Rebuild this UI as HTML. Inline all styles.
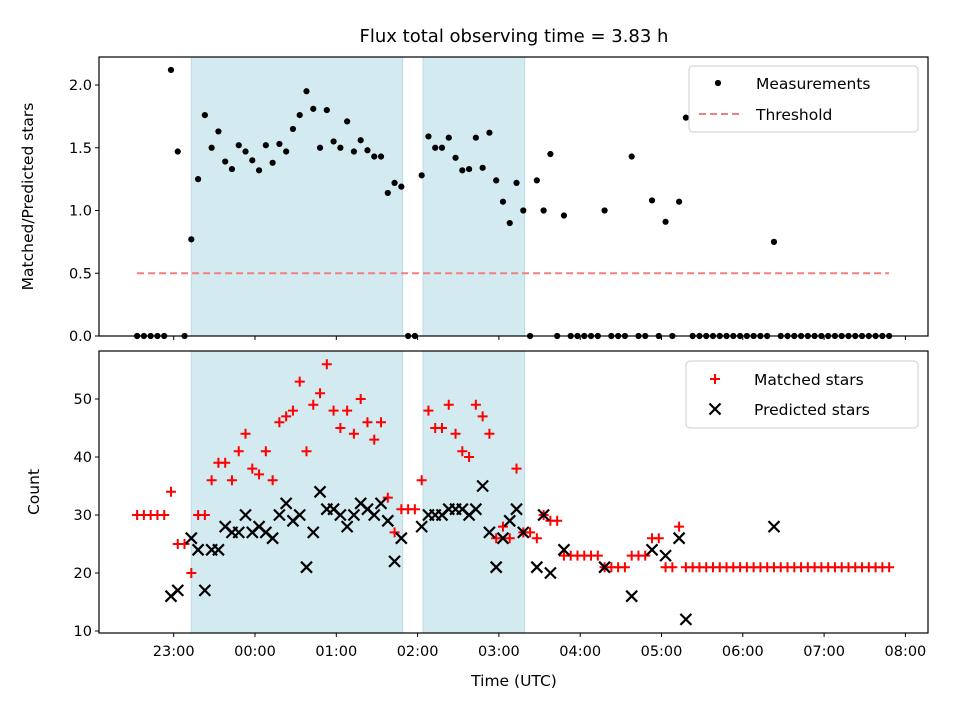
<!DOCTYPE html>
<html><head><meta charset="utf-8"><style>
body{margin:0;background:#fff;}
svg{display:block;font-family:"DejaVu Sans","Liberation Sans",sans-serif;}
</style></head><body>
<svg id="chart" width="960" height="720" viewBox="0 0 960 720" xmlns="http://www.w3.org/2000/svg"></svg>
<script>
// time index i -> minutes since 22:00 = startMin + step*i
const startMin = 33;
const stepMin = 5;
const ratioValues = [0,0,0,0,0,2.12,1.47,0,0.77,1.25,1.76,1.50,1.63,1.39,1.33,1.52,1.47,1.40,1.32,1.52,1.38,1.53,1.47,1.65,1.76,1.95,1.81,1.50,1.80,1.55,1.50,1.71,1.47,1.56,1.48,1.43,1.43,1.14,1.22,1.19,0,0,1.28,1.59,1.50,1.50,1.58,1.42,1.32,1.33,1.58,1.34,1.62,1.24,1.07,0.90,1.22,1.00,0,1.24,1.00,1.45,0,0.96,0,0,0,0,0,1.00,0,0,0,1.43,0,0,1.08,0,0.91,0,1.07,1.74,0,0,0,0,0,0,0,0,0,0,0,0,0.75,0,0,0,0,0,0,0,0,0,0,0,0,0,0,0,0,0];
const matchedValues = [30,30,30,30,30,34,25,25,20,30,30,36,39,39,36,41,44,38,37,41,36,46,47,48,53,41,49,51,56,48,45,48,44,50,46,43,46,33,27,31,31,31,36,48,45,45,49,44,41,40,49,47,44,26,28,26,38,27,27,26,30,29,29,23,23,23,23,23,23,21,21,21,21,23,23,23,26,26,21,21,28,21,21,21,21,21,21,21,21,21,21,21,21,21,21,21,21,21,21,21,21,21,21,21,21,21,21,21,21,21,21,21];
const predictedValues = [null,null,null,null,null,16,17,null,26,24,17,24,24,28,27,27,30,27,28,27,26,30,32,29,30,21,27,34,31,31,30,28,30,32,31,30,32,29,22,26,null,null,28,30,30,30,31,31,31,30,31,35,27,21,26,29,31,27,null,21,30,20,null,24,null,null,null,null,null,21,null,null,null,16,null,null,24,null,23,null,26,12,null,null,null,null,null,null,null,null,null,null,null,null,28];
const xTickLabels = ["23:00","00:00","01:00","02:00","03:00","04:00","05:00","06:00","07:00","08:00"];
const xTickMins = [60,120,180,240,300,360,420,480,540,600];
const topYTicks = [0.0,0.5,1.0,1.5,2.0];
const botYTicks = [10,20,30,40,50];
const spans = [[73,229],[244,319]];
const threshold = 0.5;
const thresholdRange = [33,588];

const NS="http://www.w3.org/2000/svg";
const svg=document.getElementById('chart');
function el(tag,attrs,parent){const e=document.createElementNS(NS,tag);for(const k in attrs)e.setAttribute(k,attrs[k]);(parent||svg).appendChild(e);return e;}
const L=99,R=928;
const xS=m=>92.4+m*1.355;
const tT=57,tB=336,bT=351,bB=633;
const yTop=v=>336-v*125.5;
const yBot=v=>631-(v-10)*5.8;
const tm=i=>startMin+stepMin*i;

let t=el('text',{x:514,y:42,'text-anchor':'middle','font-size':'18'});t.textContent='Flux total observing time = 3.83 h';


function panel(top,bottom,name){
  const g=el('g',{});
  
  spans.forEach(s=>{const r=el('rect',{x:xS(s[0]),y:top,width:xS(s[1])-xS(s[0]),height:bottom-top,fill:'#d4eaf1',stroke:'#bcdbe6','stroke-width':1},g);
    });
  return g;
}
const gTop=panel(tT,tB,'top-panel');
const gBot=panel(bT,bB,'bottom-panel');

let th=el('line',{x1:xS(thresholdRange[0]),x2:xS(thresholdRange[1]),y1:yTop(threshold),y2:yTop(threshold),stroke:'#f08080','stroke-width':2,'stroke-dasharray':'7,4'},gTop);


ratioValues.forEach((v,i)=>{if(v===null)return;const c=el('circle',{cx:xS(tm(i)),cy:yTop(v),r:3.1,fill:'#000'},gTop);
  });

matchedValues.forEach((v,i)=>{if(v===null)return;const x=xS(tm(i)),y=yBot(v);
  const p=el('path',{d:`M${x-5},${y}H${x+5}M${x},${y-5}V${y+5}`,stroke:'#f00','stroke-width':2},gBot);
  });
predictedValues.forEach((v,i)=>{if(v===null)return;const x=xS(tm(i)),y=yBot(v);
  const p=el('path',{d:`M${x-5.5},${y-5.5}L${x+5.5},${y+5.5}M${x-5.5},${y+5.5}L${x+5.5},${y-5.5}`,stroke:'#000','stroke-width':2.2},gBot);
  });

[[tT,tB],[bT,bB]].forEach(([a,b])=>{el('rect',{x:L,y:a,width:R-L,height:b-a,fill:'none',stroke:'#000','stroke-width':1.2});});

xTickMins.forEach((m,k)=>{const x=xS(m);
  el('line',{x1:x,x2:x,y1:tB,y2:tB+4,stroke:'#000'});
  el('line',{x1:x,x2:x,y1:bB,y2:bB+4,stroke:'#000'});
  const tx=el('text',{x:x,y:bB+23,'text-anchor':'middle','font-size':'14.5'});tx.textContent=xTickLabels[k];
  });
topYTicks.forEach(v=>{const y=yTop(v);el('line',{x1:L-4,x2:L,y1:y,y2:y,stroke:'#000'});
  const tx=el('text',{x:L-7,y:y+5,'text-anchor':'end','font-size':'14.5'});tx.textContent=v.toFixed(1);
  });
botYTicks.forEach(v=>{const y=yBot(v);el('line',{x1:L-4,x2:L,y1:y,y2:y,stroke:'#000'});
  const tx=el('text',{x:L-7,y:y+5,'text-anchor':'end','font-size':'14.5'});tx.textContent=v;
  });

let a1=el('text',{x:0,y:0,'text-anchor':'middle','font-size':'15.5',transform:`translate(33,${(tT+tB)/2}) rotate(-90)`});a1.textContent='Matched/Predicted stars';

let a2=el('text',{x:0,y:0,'text-anchor':'middle','font-size':'15.5',transform:`translate(39,${(bT+bB)/2}) rotate(-90)`});a2.textContent='Count';

let a3=el('text',{x:514,y:686,'text-anchor':'middle','font-size':'15.5'});a3.textContent='Time (UTC)';


function legend(x,y,w,h,name){const g=el('g',{});
  el('rect',{x:x,y:y,width:w,height:h,rx:4,fill:'#fff','fill-opacity':0.85,stroke:'#ccc'},g);return g;}
const lg1=legend(689,66,229,66,'top-legend');
el('circle',{cx:718,cy:83,r:3.1,fill:'#000'},lg1);
let l1=el('text',{x:756,y:89,'font-size':'15.5'},lg1);l1.textContent='Measurements';

el('line',{x1:699,x2:739,y1:114,y2:114,stroke:'#f08080','stroke-width':2,'stroke-dasharray':'7,4'},lg1);
let l2=el('text',{x:756,y:120,'font-size':'15.5'},lg1);l2.textContent='Threshold';


const lg2=legend(686,361,232,67,'bottom-legend');
el('path',{d:'M710,379H720M715,374V384',stroke:'#f00','stroke-width':2},lg2);
let l3=el('text',{x:754,y:385,'font-size':'15.5'},lg2);l3.textContent='Matched stars';

el('path',{d:'M709.5,403.5L720.5,414.5M709.5,414.5L720.5,403.5',stroke:'#000','stroke-width':2.2},lg2);
let l4=el('text',{x:754,y:415,'font-size':'15.5'},lg2);l4.textContent='Predicted stars';

</script>
</body></html>
